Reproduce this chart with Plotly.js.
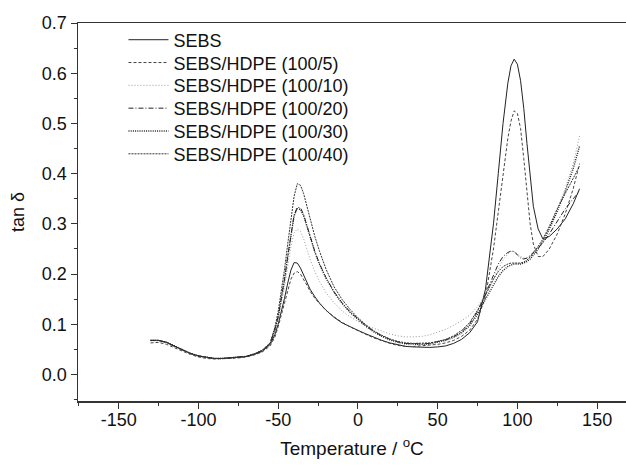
<!DOCTYPE html>
<html>
<head>
<meta charset="utf-8">
<script src="https://cdn.plot.ly/plotly-3.0.1.min.js"></script>
<style>html,body{margin:0;padding:0;background:#fff}#chart{width:626px;height:465px}</style>
</head>
<body>
<div id="chart"></div>
<script>
var temperature = [-130,-125,-120,-115,-110,-105,-100,-95,-90,-85,-80,-75,-70,-65,-60,-55,-52,-50,-48,-46,-44,-42,-40,-38,-36,-34,-32,-30,-27,-24,-20,-15,-10,-5,0,5,10,15,20,25,30,35,40,45,50,55,60,65,70,75,80,85,88,91,94,96,98,100,102,104,106,108,110,113,116,120,125,130,135,139];

var seriesNames = ["SEBS","SEBS/HDPE (100/5)","SEBS/HDPE (100/10)","SEBS/HDPE (100/20)","SEBS/HDPE (100/30)","SEBS/HDPE (100/40)"];

var sebs = [0.068,0.068,0.064,0.057,0.049,0.042,0.037,0.034,0.032,0.032,0.033,0.034,0.036,0.040,0.046,0.060,
  0.080,0.100,0.125,0.152,0.182,0.208,0.223,0.222,0.212,0.198,0.183,0.170,0.155,0.142,0.128,0.114,0.103,0.095,0.088,0.081,0.074,0.068,0.063,0.059,0.056,0.055,0.054,0.054,0.055,0.057,0.062,0.070,0.083,0.105,0.170,0.300,0.400,0.500,0.580,0.615,0.628,0.618,0.585,0.530,0.460,0.390,0.335,0.290,0.270,0.275,0.290,0.310,0.340,0.370];

var hdpe5 = [0.063,0.064,0.060,0.053,0.046,0.040,0.035,0.032,0.031,0.031,0.032,0.033,0.035,0.039,0.045,0.057,
  0.075,0.095,0.118,0.143,0.168,0.190,0.202,0.205,0.200,0.190,0.178,0.166,0.152,0.141,0.128,0.115,0.104,0.095,0.087,0.080,0.073,0.067,0.062,0.058,0.056,0.056,0.057,0.058,0.060,0.063,0.068,0.076,0.088,0.110,0.155,0.250,0.320,0.400,0.470,0.505,0.525,0.520,0.490,0.430,0.360,0.300,0.260,0.235,0.235,0.250,0.280,0.320,0.370,0.420];

var hdpe10 = [0.067,0.067,0.063,0.056,0.048,0.041,0.036,0.033,0.032,0.032,0.033,0.034,0.036,0.040,0.047,0.061,
  0.085,0.110,0.140,0.175,0.215,0.255,0.282,0.290,0.285,0.270,0.250,0.230,0.205,0.185,0.163,0.143,0.127,0.115,0.106,0.098,0.092,0.086,0.081,0.077,0.075,0.075,0.076,0.079,0.084,0.090,0.098,0.107,0.118,0.135,0.160,0.190,0.210,0.228,0.240,0.245,0.245,0.240,0.235,0.232,0.232,0.235,0.240,0.250,0.265,0.290,0.330,0.370,0.420,0.475];

var hdpe20 = [0.068,0.068,0.064,0.057,0.049,0.042,0.037,0.034,0.032,0.032,0.033,0.034,0.036,0.041,0.048,0.062,
  0.090,0.115,0.150,0.190,0.235,0.280,0.318,0.333,0.332,0.318,0.297,0.275,0.245,0.220,0.193,0.165,0.143,0.125,0.110,0.097,0.086,0.077,0.070,0.065,0.062,0.061,0.061,0.062,0.065,0.069,0.075,0.085,0.100,0.125,0.160,0.200,0.220,0.235,0.243,0.246,0.245,0.238,0.232,0.230,0.232,0.237,0.243,0.252,0.262,0.280,0.305,0.330,0.350,0.365];

var hdpe30 = [0.068,0.068,0.064,0.057,0.049,0.042,0.037,0.034,0.032,0.032,0.033,0.034,0.036,0.041,0.048,0.062,
  0.090,0.115,0.150,0.190,0.235,0.280,0.316,0.330,0.329,0.316,0.295,0.273,0.244,0.219,0.192,0.164,0.142,0.124,0.109,0.096,0.085,0.076,0.069,0.064,0.061,0.060,0.060,0.061,0.064,0.068,0.074,0.083,0.097,0.120,0.150,0.180,0.195,0.207,0.215,0.218,0.220,0.220,0.220,0.222,0.225,0.230,0.238,0.250,0.265,0.290,0.325,0.365,0.410,0.455];

var hdpe40 = [0.068,0.068,0.064,0.057,0.049,0.042,0.037,0.034,0.032,0.032,0.033,0.034,0.036,0.041,0.048,0.063,
  0.095,0.125,0.165,0.210,0.260,0.310,0.355,0.380,0.377,0.360,0.335,0.310,0.275,0.245,0.210,0.175,0.150,0.130,0.113,0.099,0.087,0.078,0.071,0.066,0.063,0.062,0.062,0.063,0.066,0.070,0.077,0.088,0.103,0.128,0.158,0.190,0.205,0.215,0.220,0.222,0.222,0.222,0.222,0.224,0.228,0.234,0.242,0.255,0.270,0.295,0.330,0.360,0.390,0.415];

var xTicks = [-150,-100,-50,0,50,100,150];
var xTickText = ["-150","-100","-50","0","50","100","150"];
var yTicks = [0.0,0.1,0.2,0.3,0.4,0.5,0.6,0.7];
var yTickText = ["0.0","0.1","0.2","0.3","0.4","0.5","0.6","0.7"];

var values = [sebs,hdpe5,hdpe10,hdpe20,hdpe30,hdpe40];
var styles = [
  {color:"#222222", dash:"solid", width:1},
  {color:"#444444", dash:"3px,2px", width:1},
  {color:"#9a9a9a", dash:"1px,2px", width:1},
  {color:"#222222", dash:"5px,2px,1px,2px", width:1},
  {color:"#222222", dash:"1px,1.2px", width:1.4},
  {color:"#333333", dash:"2px,1px", width:1}
];
var legendIds = ["legend","legend2","legend3","legend4","legend5","legend6"];

var traces = values.map(function(v,i){
  return {x:temperature, y:v, type:"scatter", mode:"lines", name:seriesNames[i], line:styles[i], legend:legendIds[i]};
});

var font = "Liberation Sans, Arial, sans-serif";
var plotTop = 23, plotBottom = 400.7;
var rowCenters = [40, 62.8, 85.6, 108.4, 131.2, 154];

var layout = {
  width:626, height:465,
  margin:{l:78, r:0, t:23, b:64},
  paper_bgcolor:"#fff", plot_bgcolor:"#fff",
  showlegend:true,
  xaxis:{range:[-175.5,168.1], tickvals:xTicks, ticktext:xTickText, ticks:"outside", ticklen:6, tickwidth:1, tickcolor:"#333",
    showline:true, linecolor:"#333", linewidth:1.5, mirror:true, showgrid:false, zeroline:false,
    minor:{dtick:25, ticks:"outside", ticklen:3, tickcolor:"#333"},
    ticklabelstandoff:-4,
    tickfont:{family:font, size:18, color:"#111"},
    title:{text:"Temperature / <sup>o</sup>C", font:{family:font, size:19, color:"#111"}, standoff:12}},
  yaxis:{range:[-0.0527,0.7], tickvals:yTicks, ticktext:yTickText,
    ticks:"outside", ticklen:6, tickwidth:1, tickcolor:"#333",
    showline:true, linecolor:"#333", linewidth:1.5, showgrid:false, zeroline:false,
    minor:{dtick:0.05, ticks:"outside", ticklen:3, tickcolor:"#333"},
    tickfont:{family:font, size:18, color:"#111"},
    title:{text:"tan δ", font:{family:font, size:18, color:"#111"}, standoff:12}}
};
legendIds.forEach(function(id,i){
  layout[id] = {x:0.083, y:(plotBottom-rowCenters[i])/(plotBottom-plotTop), xanchor:"left", yanchor:"middle",
    bgcolor:"rgba(0,0,0,0)", font:{family:font, size:18, color:"#111"}, itemwidth:40};
});

Plotly.newPlot("chart", traces, layout, {displayModeBar:false, staticPlot:true});
</script>
</body>
</html>
